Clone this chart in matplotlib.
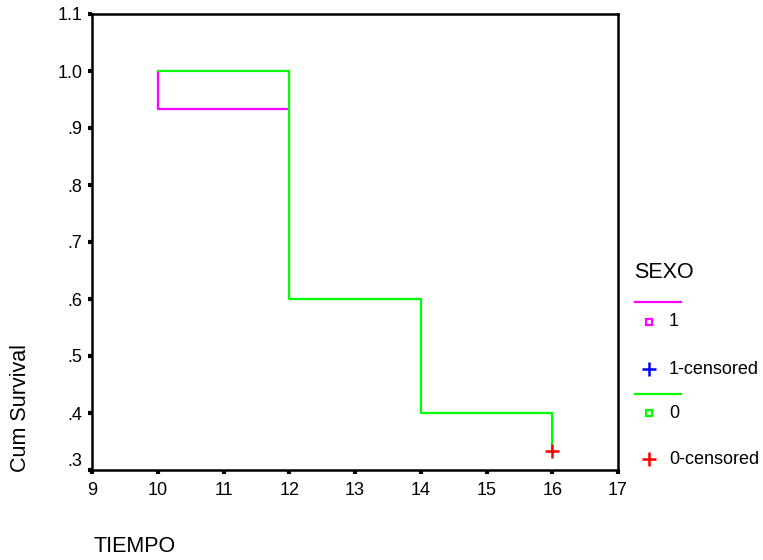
import matplotlib
matplotlib.use('Agg')
import matplotlib.pyplot as plt
from matplotlib.lines import Line2D

plt.rcParams['font.family'] = ['Liberation Sans', 'DejaVu Sans']

# Survival steps per group (SEXO)
tiempo_1 = [10, 10, 12]
surv_1 = [1.0, 0.933, 0.933]
tiempo_0 = [10, 12, 14, 16]
surv_0 = [1.0, 0.6, 0.4, 0.333]
cens_t_0 = [16]
cens_s_0 = [0.333]

x_ticks = [9, 10, 11, 12, 13, 14, 15, 16, 17]
y_ticks = [0.3, 0.4, 0.5, 0.6, 0.7, 0.8, 0.9, 1.0, 1.1]
y_labels = ['.3', '.4', '.5', '.6', '.7', '.8', '.9', '1.0', '1.1']

legend_title = 'SEXO'
legend_labels = ['1', '1-censored', '0', '0-censored']

MAGENTA = '#ff00ff'
GREEN = '#00ff00'
BLUE = '#0000ff'
RED = '#ff0000'

W, H = 763, 560
fig = plt.figure(figsize=(W / 100, H / 100), dpi=100)
ax = fig.add_axes([92 / W, 1 - 470 / H, 526 / W, 456 / H])

ax.step(tiempo_1, surv_1, where='post', color=MAGENTA, lw=1.6)
ax.step(tiempo_0, surv_0, where='post', color=GREEN, lw=1.6)
ax.plot(cens_t_0, cens_s_0, ls='none', marker='+', color=RED,
        markersize=10, mew=1.8)

ax.set_xlim(9, 17)
ax.set_ylim(0.3, 1.1)
ax.set_xticks(x_ticks)
ax.set_yticks(y_ticks)
ax.set_yticklabels(y_labels)
for s in ax.spines.values():
    s.set_linewidth(1.8)
ax.tick_params(direction='out', length=3, width=3, labelsize=13)
ax.tick_params(axis='x', pad=5.5)
ax.tick_params(axis='y', pad=4)
ax.get_yticklabels()[0].set_va('bottom')

# axis titles, SPSS style
fig.text(93 / W, 1 - 546 / H, 'TIEMPO', fontsize=15.5, ha='left', va='center')
fig.text(21 / W, 1 - 472 / H, 'Cum Survival', fontsize=15.5, rotation=90,
         ha='center', va='bottom')

# legend drawn by hand
def px(x, y):
    return x / W, 1 - y / H

fig.text(*px(634, 273), legend_title, fontsize=15.5, ha='left', va='center')
entries = [
    ('line', MAGENTA, 302, None),
    ('s', MAGENTA, 322, legend_labels[0]),
    ('+', BLUE, 369, legend_labels[1]),
    ('line', GREEN, 394, None),
    ('s', GREEN, 413, legend_labels[2]),
    ('+', RED, 459, legend_labels[3]),
]
for kind, col, y, lab in entries:
    if kind == 'line':
        x0, yy = px(635, y)
        x1, _ = px(681, y)
        fig.add_artist(Line2D([x0, x1], [yy, yy], color=col, lw=1.6,
                              transform=fig.transFigure))
    else:
        mx, my = px(649, y)
        if kind == 's':
            fig.add_artist(Line2D([mx], [my], ls='none', marker='s',
                                  markersize=5, mfc='none', mec=col, mew=1.6,
                                  transform=fig.transFigure))
        else:
            fig.add_artist(Line2D([mx], [my], ls='none', marker='+',
                                  markersize=10, mec=col, mew=1.8,
                                  transform=fig.transFigure))
        fig.text(*px(669, y), lab, fontsize=13, ha='left', va='center')

fig.savefig('out.png', dpi=100)
